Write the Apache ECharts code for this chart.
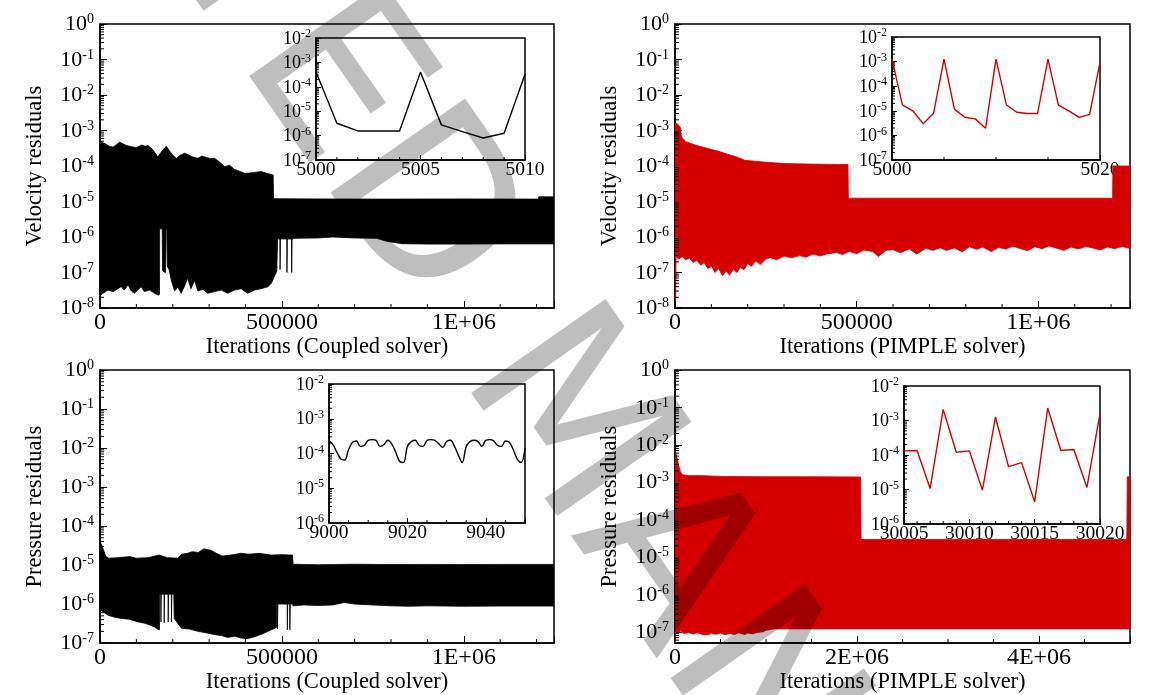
<!DOCTYPE html>
<html>
<head>
<meta charset="utf-8">
<script src="https://cdn.jsdelivr.net/npm/echarts@6/dist/echarts.min.js"></script>
<style>html,body{margin:0;padding:0;background:#fff}#c{width:1154px;height:695px}</style>
</head>
<body>
<div id="c"></div>
<script>
// ---------------- DATA ----------------
// Panel 1: velocity residuals, coupled solver (envelope of the dense oscillation)
var velCoupledUpper = [[0,5.5e-4],[5000,4.6e-4],[15000,4.2e-4],[25000,3.6e-4],[36000,3.4e-4],[45000,4.0e-4],[54000,4.7e-4],[62000,4.3e-4],[72000,3.8e-4],[86000,3.5e-4],[100000,3.3e-4],[115000,3.9e-4],[125000,3.6e-4],[132000,3.8e-4],[145000,2.9e-4],[159000,1.8e-4],[170000,2.6e-4],[182000,3.6e-4],[192000,2.6e-4],[200000,2.0e-4],[210000,1.65e-4],[220000,2.0e-4],[233000,2.3e-4],[245000,2.0e-4],[255000,1.8e-4],[269000,1.65e-4],[280000,1.9e-4],[292000,1.75e-4],[305000,1.6e-4],[315000,1.65e-4],[328000,1.3e-4],[343000,9.6e-5],[356000,1.05e-4],[370000,8.0e-5],[385000,7.0e-5],[398000,6.2e-5],[410000,6.3e-5],[425000,6.6e-5],[443000,7.0e-5],[458000,6.2e-5],[470000,5.8e-5],[476000,5.6e-5],[477000,1.2e-5],[600000,1.18e-5],[800000,1.17e-5],[1000000,1.18e-5],[1205000,1.17e-5],[1206000,1.35e-5],[1248000,1.35e-5]];
var velCoupledLower = [[0,2.2e-8],[8000,2.6e-8],[22000,3.2e-8],[36000,2.9e-8],[49000,3.5e-8],[58000,4e-8],[67000,3.2e-8],[77000,4.5e-8],[86000,3.0e-8],[95000,2.6e-8],[104000,3.2e-8],[113000,4e-8],[122000,2.9e-8],[136000,3.2e-8],[150000,2.6e-8],[161000,2.3e-8],[163500,2.4e-8],[164000,1.7e-6],[171000,1.7e-6],[172000,1.1e-7],[180000,1.0e-7],[182000,1.7e-6],[184000,1.7e-6],[185000,1.5e-7],[190000,1.2e-7],[196000,6e-8],[205000,3e-8],[214000,3.9e-8],[223000,2.6e-8],[232000,4e-8],[241000,7e-8],[250000,3.5e-8],[260000,6e-8],[269000,3e-8],[283000,3.4e-8],[296000,2.6e-8],[315000,2.9e-8],[333000,3.2e-8],[351000,2.6e-8],[370000,3.2e-8],[388000,3.5e-8],[406000,2.6e-8],[425000,3.2e-8],[443000,3.5e-8],[462000,4e-8],[471000,5e-8],[480000,8e-8],[486000,1.1e-7],[488000,8.8e-7],[494500,8.8e-7],[495000,1.2e-7],[496000,8.8e-7],[513500,8.8e-7],[514000,1.0e-7],[515000,8.8e-7],[526500,8.8e-7],[527000,1.0e-7],[528000,8.8e-7],[535000,9.2e-7],[600000,9.4e-7],[640000,1.0e-6],[700000,9.4e-7],[760000,9.2e-7],[790000,7.5e-7],[830000,6.5e-7],[900000,6.3e-7],[1000000,6.3e-7],[1100000,6.4e-7],[1248000,6.4e-7]];

// Panel 2: velocity residuals, PIMPLE solver
var velPimpleUpper = [[0,1.6e-3],[8000,1.5e-3],[15000,1.2e-3],[18000,6.6e-4],[30000,4.8e-4],[60000,3.8e-4],[91000,3.1e-4],[120000,2.6e-4],[141000,2.2e-4],[170000,1.8e-4],[192000,1.45e-4],[242000,1.3e-4],[302000,1.17e-4],[400000,1.12e-4],[476000,1.1e-4],[477000,1.24e-5],[1204000,1.24e-5],[1205000,1.0e-4],[1252000,1.0e-4]];
var velPimpleLower = [[0,1.5e-8],[2000,2e-8],[3000,2.8e-7],[10000,2.4e-7],[20000,2.8e-7],[30000,2.3e-7],[40000,2.5e-7],[50000,1.9e-7],[60000,2.2e-7],[71000,1.6e-7],[80000,1.9e-7],[90000,1.3e-7],[101000,1.5e-7],[110000,1.0e-7],[120000,1.3e-7],[131000,8e-8],[140000,1.1e-7],[150000,8.5e-8],[161000,1.25e-7],[170000,1.0e-7],[180000,1.4e-7],[190000,1.2e-7],[200000,1.8e-7],[210000,1.5e-7],[222000,2.1e-7],[235000,1.7e-7],[250000,2.4e-7],[262000,2.6e-7],[280000,2.3e-7],[300000,2.9e-7],[320000,2.6e-7],[343000,3.0e-7],[360000,2.7e-7],[380000,3.3e-7],[400000,2.9e-7],[420000,3.4e-7],[425000,3.4e-7],[426000,1.1e-6],[427000,3.4e-7],[444000,3.7e-7],[460000,3.2e-7],[480000,3.9e-7],[500000,3.4e-7],[520000,4.3e-7],[544000,3.9e-7],[560000,2.8e-7],[580000,4.2e-7],[600000,4.4e-7],[620000,3.6e-7],[645000,4.6e-7],[665000,3.3e-7],[690000,4.8e-7],[710000,4.2e-7],[730000,5e-7],[746000,4.2e-7],[770000,4.9e-7],[790000,3.8e-7],[810000,5.3e-7],[830000,4.5e-7],[847000,5.2e-7],[870000,3.9e-7],[890000,5.1e-7],[910000,4.6e-7],[930000,5.5e-7],[948000,4.8e-7],[970000,4.1e-7],[990000,5.3e-7],[1010000,4.7e-7],[1030000,5.6e-7],[1048000,4.9e-7],[1070000,4.2e-7],[1090000,5.2e-7],[1110000,4.6e-7],[1130000,5.4e-7],[1150000,4.9e-7],[1170000,4.3e-7],[1190000,5.2e-7],[1210000,4.7e-7],[1230000,5.4e-7],[1252000,4.8e-7]];

// Panel 3: pressure residuals, coupled solver
var presCoupledUpper = [[0,3.8e-5],[4000,3.4e-5],[8000,2.7e-5],[16000,1.65e-5],[24000,1.5e-5],[50000,1.55e-5],[81000,1.65e-5],[100000,1.5e-5],[132000,1.55e-5],[150000,1.7e-5],[163000,1.8e-5],[185000,1.55e-5],[214000,1.5e-5],[224000,1.9e-5],[240000,2.0e-5],[254000,2.2e-5],[270000,2.1e-5],[285000,2.6e-5],[305000,2.4e-5],[320000,2.0e-5],[336000,1.7e-5],[360000,1.8e-5],[387000,2.0e-5],[410000,1.9e-5],[437000,2.0e-5],[470000,1.8e-5],[500000,1.85e-5],[529000,1.8e-5],[531000,1.05e-5],[600000,1.02e-5],[700000,1.05e-5],[800000,1.03e-5],[900000,1.04e-5],[1000000,1.03e-5],[1100000,1.04e-5],[1248000,1.04e-5]];
var presCoupledLower = [[0,7e-7],[4000,6.9e-7],[12000,6e-7],[22000,5.2e-7],[40000,4.6e-7],[58000,4.3e-7],[80000,4.1e-7],[104000,3.5e-7],[125000,3.2e-7],[150000,2.6e-7],[161000,2.2e-7],[163500,2.2e-7],[164000,1.8e-6],[167000,1.8e-6],[167500,3.5e-7],[168500,1.8e-6],[176000,1.8e-6],[176500,3.3e-7],[177500,1.8e-6],[187000,1.8e-6],[187500,3.5e-7],[188500,1.8e-6],[196000,1.8e-6],[196500,3.5e-7],[197500,1.8e-6],[203000,1.8e-6],[204000,4.3e-7],[214000,3.2e-7],[224000,2.4e-7],[245000,2.3e-7],[269000,2.0e-7],[290000,1.85e-7],[315000,1.65e-7],[335000,1.55e-7],[351000,1.4e-7],[370000,1.5e-7],[388000,1.35e-7],[405000,1.3e-7],[425000,1.45e-7],[445000,1.7e-7],[462000,2.0e-7],[480000,2.4e-7],[485000,2.5e-7],[486000,1.0e-6],[487500,1.0e-6],[488000,2.3e-7],[489000,1.0e-6],[514500,1.0e-6],[515000,2.2e-7],[516000,1.0e-6],[521500,1.0e-6],[522000,2.2e-7],[523000,1.0e-6],[529000,1.0e-6],[531000,9e-7],[560000,9.5e-7],[600000,9.2e-7],[640000,9.5e-7],[672000,1.1e-6],[700000,1.0e-6],[750000,9.5e-7],[800000,9.0e-7],[850000,8.8e-7],[900000,9.0e-7],[950000,8.9e-7],[1000000,8.8e-7],[1100000,8.9e-7],[1248000,8.9e-7]];

// Panel 4: pressure residuals, PIMPLE solver
var presPimpleUpper = [[0,7e-3],[20000,4.7e-3],[40000,2.8e-3],[60000,1.9e-3],[81000,1.58e-3],[161000,1.5e-3],[300000,1.5e-3],[565000,1.42e-3],[1000000,1.4e-3],[1500000,1.4e-3],[2040000,1.38e-3],[2045000,2.95e-5],[4965000,2.95e-5],[4970000,1.4e-3],[5000000,1.4e-3]];
var presPimpleLower = [[0,5.5e-8],[5000,5.5e-8],[8000,1.0e-7],[30000,9.5e-8],[60000,1.05e-7],[100000,9e-8],[150000,9.6e-8],[200000,8.7e-8],[250000,9.4e-8],[300000,8.5e-8],[363000,8.3e-8],[400000,9.2e-8],[450000,8.6e-8],[500000,9.3e-8],[550000,8.4e-8],[600000,9.0e-8],[650000,8.5e-8],[700000,9.4e-8],[766000,8.5e-8],[800000,9.3e-8],[850000,8.8e-8],[900000,9.6e-8],[968000,1.0e-7],[1000000,1.1e-7],[1090000,1.2e-7],[1500000,1.2e-7],[2000000,1.2e-7],[3000000,1.2e-7],[4000000,1.2e-7],[5000000,1.2e-7]];

// Insets
var inset1X = [5000,5001,5002,5003,5004,5005,5006,5007,5008,5009,5010];
var inset1Y = [4e-4,3.2e-6,1.55e-6,1.55e-6,1.55e-6,4e-4,2.75e-6,1.45e-6,8e-7,1.25e-6,3.3e-4];

var inset2X = [5000,5001,5002,5003,5004,5005,5006,5007,5008,5009,5010,5011,5012,5013,5014,5015,5016,5017,5018,5019,5020];
var inset2Y = [1.26e-3,1.74e-5,1.0e-5,3.0e-6,8.0e-6,1.26e-3,1.17e-5,5.5e-6,4.7e-6,1.95e-6,1.26e-3,1.74e-5,8.7e-6,7.8e-6,7.8e-6,1.26e-3,1.7e-5,1.0e-5,5.4e-6,7.2e-6,9.3e-4];

var inset3X = [9000,9001,9002,9003,9004,9005,9006,9007,9008,9009,9010,9011,9012,9013,9014,9015,9016,9017,9018,9019,9020,9021,9022,9023,9024,9025,9026,9027,9028,9029,9030,9031,9032,9033,9034,9035,9036,9037,9038,9039,9040,9041,9042,9043,9044,9045,9046,9047,9048,9049,9050];
var inset3Y = [2.3e-4,1.8e-4,1.1e-4,7e-5,6.5e-5,1.3e-4,2.1e-4,2.3e-4,1.6e-4,1.7e-4,2.4e-4,2.5e-4,2.4e-4,1.6e-4,1.8e-4,2.4e-4,1.9e-4,1.1e-4,6e-5,5.5e-5,1.6e-4,2.2e-4,2.4e-4,1.7e-4,1.6e-4,2.4e-4,2.5e-4,2.4e-4,1.9e-4,1.5e-4,2.2e-4,2.4e-4,1.6e-4,9e-5,5.5e-5,1.6e-4,2.2e-4,2.4e-4,2.2e-4,1.6e-4,2.4e-4,2.5e-4,2.3e-4,1.7e-4,1.6e-4,2.3e-4,2.1e-4,1.3e-4,7e-5,5.5e-5,1.4e-4];

var inset4X = [30005,30006,30007,30008,30009,30010,30011,30012,30013,30014,30015,30016,30017,30018,30019,30020];
var inset4Y = [1.32e-4,1.35e-4,1.07e-5,2.1e-3,1.2e-4,1.32e-4,9.6e-6,1.26e-3,4.6e-5,6e-5,4.4e-6,2.3e-3,1.35e-4,1.45e-4,1.15e-5,1.6e-3];

// Tick labels
var xTicksCoupled = [0, 500000, 1000000];
var xLabelsCoupled = ['0', '500000', '1E+06'];
var xTicksPimplePres = [0, 2000000, 4000000];
var xLabelsPimplePres = ['0', '2E+06', '4E+06'];
var xTicksInset1 = [5000, 5005, 5010];
var xTicksInset2 = [5000, 5020];
var xTicksInset3 = [9000, 9020, 9040];
var xTicksInset4 = [30005, 30010, 30015, 30020];

// Minor x ticks
var xMinorCoupled = [100000,200000,300000,400000,600000,700000,800000,900000,1100000,1200000];
var xMinorPimplePres = [500000,1000000,1500000,2500000,3000000,3500000,4500000];
var xMinorInset1 = [5001,5002,5003,5004,5006,5007,5008,5009];
var xMinorInset2 = [5005,5010,5015];
var xMinorInset3 = [9005,9010,9015,9025,9030,9035,9045,9050];
var xMinorInset4 = [30006,30007,30008,30009,30011,30012,30013,30014,30016,30017,30018,30019];

// Watermark text
var watermarkText = 'ACCEPTED MANUSCRIPT';

// ---------------- HELPERS ----------------
var SERIF = "'Liberation Serif','Times New Roman',serif";
var RED = '#d40000';

function logMinor(minV, maxV) {
  var out = [];
  var e0 = Math.floor(Math.log10(minV)), e1 = Math.ceil(Math.log10(maxV));
  for (var e = e0; e < e1; e++) {
    for (var k = 2; k <= 9; k++) {
      var v = k * Math.pow(10, e);
      if (v > minV * 1.0001 && v < maxV * 0.9999) out.push(v);
    }
  }
  return out;
}

function yLab(v) {
  var e = Math.log10(v), r = Math.round(e);
  if (Math.abs(e - r) > 1e-3) return '';
  return '{b|10}{s|' + r + '}';
}

function xLabFn(ticks, labels) {
  return function (v) {
    for (var i = 0; i < ticks.length; i++) {
      if (Math.abs(ticks[i] - v) < 1e-6 * Math.max(1, Math.abs(v))) return labels ? labels[i] : String(ticks[i]);
    }
    return '';
  };
}

function yAxisCfg(gi, min, max, name, inset) {
  return {
    type: 'log', logBase: 10, gridIndex: gi, min: min, max: max, splitNumber: 8,
    name: name || '', nameLocation: 'middle', nameGap: 53,
    nameTextStyle: { fontFamily: SERIF, fontSize: 22.5, color: '#000' },
    axisLine: { show: true, lineStyle: { color: '#000', width: 1.5 } },
    axisTick: { show: true, inside: true, length: inset ? 5 : 7, lineStyle: { color: '#000', width: 1 } },
    minorTick: { show: false }, splitLine: { show: false }, minorSplitLine: { show: false },
    axisLabel: {
      formatter: yLab, margin: inset ? 5 : 6,
      rich: inset ? {
        b: { fontFamily: SERIF, fontSize: 18, color: '#000', lineHeight: 20, verticalAlign: 'bottom' },
        s: { fontFamily: SERIF, fontSize: 12, color: '#000', lineHeight: 12, verticalAlign: 'top' }
      } : {
        b: { fontFamily: SERIF, fontSize: 22, color: '#000', lineHeight: 23, verticalAlign: 'bottom' },
        s: { fontFamily: SERIF, fontSize: 14, color: '#000', lineHeight: 14, verticalAlign: 'top' }
      }
    }
  };
}

function xAxisCfg(gi, min, max, interval, ticks, labels, name, inset) {
  return {
    type: 'value', gridIndex: gi, min: min, max: max, interval: interval,
    name: name || '', nameLocation: 'middle', nameGap: 20,
    nameTextStyle: { fontFamily: SERIF, fontSize: 22.5, color: '#000' },
    axisLine: { show: true, onZero: false, lineStyle: { color: '#000', width: 1.5 } },
    axisTick: { show: true, inside: true, length: inset ? 5 : 7, lineStyle: { color: '#000', width: 1 } },
    minorTick: { show: false }, splitLine: { show: false },
    axisLabel: { formatter: xLabFn(ticks, labels), margin: inset ? 0 : 3, fontFamily: SERIF, fontSize: inset ? 19.5 : 24, color: '#000', interval: 0 }
  };
}

function bandSeries(gi, upper, lower, color) {
  return {
    type: 'custom', xAxisIndex: gi, yAxisIndex: gi, silent: true, z: 2, clip: true,
    data: [[upper[0][0], upper[0][1]]],
    renderItem: function (params, api) {
      var pts = [];
      for (var i = 0; i < upper.length; i++) pts.push(api.coord(upper[i]));
      for (var j = lower.length - 1; j >= 0; j--) pts.push(api.coord(lower[j]));
      return { type: 'polygon', shape: { points: pts }, style: { fill: color, stroke: color, lineWidth: 0.8 } };
    }
  };
}

function minorYSeries(gi, xAt, values, len) {
  return {
    type: 'custom', xAxisIndex: gi, yAxisIndex: gi, silent: true, z: 5, clip: false,
    data: values.map(function (v) { return [xAt, v]; }),
    renderItem: function (params, api) {
      var p = api.coord([api.value(0), api.value(1)]);
      return { type: 'line', shape: { x1: p[0], y1: p[1], x2: p[0] + len, y2: p[1] }, style: { stroke: '#000', lineWidth: 1 } };
    }
  };
}

function minorXSeries(gi, yAt, values, len) {
  return {
    type: 'custom', xAxisIndex: gi, yAxisIndex: gi, silent: true, z: 5, clip: false,
    data: values.map(function (v) { return [v, yAt]; }),
    renderItem: function (params, api) {
      var p = api.coord([api.value(0), api.value(1)]);
      return { type: 'line', shape: { x1: p[0], y1: p[1], x2: p[0], y2: p[1] - len }, style: { stroke: '#000', lineWidth: 1 } };
    }
  };
}

function lineSeries(gi, xs, ys, color, smooth) {
  return {
    type: 'line', xAxisIndex: gi, yAxisIndex: gi, z: 6, silent: true, showSymbol: false, symbol: 'none',
    smooth: smooth || false, animation: false,
    lineStyle: { color: color, width: 1.4 },
    data: xs.map(function (x, i) { return [x, ys[i]]; })
  };
}

function gridCfg(l, t, w, h) {
  return { left: l, top: t, width: w, height: h, show: true, borderColor: '#000', borderWidth: 1.5, backgroundColor: 'transparent', containLabel: false };
}

// ---------------- OPTION ----------------
var C1 = 1248000, C2 = 1252000, P4 = 5000000;
var option = {
  animation: false,
  backgroundColor: '#fff',
  grid: [
    gridCfg(100, 24, 454, 284), gridCfg(675, 24, 455, 284),
    gridCfg(100, 370, 454, 283), gridCfg(675, 370, 455, 283),
    gridCfg(316, 38, 209, 122), gridCfg(892, 37, 208, 123),
    gridCfg(329, 384, 196, 139), gridCfg(904, 386, 196, 138)
  ],
  xAxis: [
    xAxisCfg(0, 0, C1, 500000, xTicksCoupled, xLabelsCoupled, 'Iterations (Coupled solver)'),
    xAxisCfg(1, 0, C2, 500000, xTicksCoupled, xLabelsCoupled, 'Iterations (PIMPLE solver)'),
    xAxisCfg(2, 0, C1, 500000, xTicksCoupled, xLabelsCoupled, 'Iterations (Coupled solver)'),
    xAxisCfg(3, 0, P4, 2000000, xTicksPimplePres, xLabelsPimplePres, 'Iterations (PIMPLE solver)'),
    xAxisCfg(4, 5000, 5010, 5, xTicksInset1, null, '', true),
    xAxisCfg(5, 5000, 5020, 20, xTicksInset2, null, '', true),
    xAxisCfg(6, 9000, 9050, 20, xTicksInset3, null, '', true),
    xAxisCfg(7, 30005, 30020, 5, xTicksInset4, null, '', true)
  ],
  yAxis: [
    yAxisCfg(0, 1e-8, 1, 'Velocity residuals'),
    yAxisCfg(1, 1e-8, 1, 'Velocity residuals'),
    yAxisCfg(2, 1e-7, 1, 'Pressure residuals'),
    yAxisCfg(3, 5e-8, 1, 'Pressure residuals'),
    yAxisCfg(4, 1e-7, 1e-2, '', true),
    yAxisCfg(5, 1e-7, 1e-2, '', true),
    yAxisCfg(6, 1e-6, 1e-2, '', true),
    yAxisCfg(7, 1e-6, 1e-2, '', true)
  ],
  series: [
    bandSeries(0, velCoupledUpper, velCoupledLower, '#000'),
    bandSeries(1, velPimpleUpper, velPimpleLower, RED),
    bandSeries(2, presCoupledUpper, presCoupledLower, '#000'),
    bandSeries(3, presPimpleUpper, presPimpleLower, RED),
    lineSeries(4, inset1X, inset1Y, '#000'),
    lineSeries(5, inset2X, inset2Y, RED),
    lineSeries(6, inset3X, inset3Y, '#000', 0.35),
    lineSeries(7, inset4X, inset4Y, RED),
    minorYSeries(0, 0, logMinor(1e-8, 1), 4), minorXSeries(0, 1e-8, xMinorCoupled, 4),
    minorYSeries(1, 0, logMinor(1e-8, 1), 4), minorXSeries(1, 1e-8, xMinorCoupled, 4),
    minorYSeries(2, 0, logMinor(1e-7, 1), 4), minorXSeries(2, 1e-7, xMinorCoupled, 4),
    minorYSeries(3, 0, logMinor(5e-8, 1), 4), minorXSeries(3, 5e-8, xMinorPimplePres, 4),
    minorYSeries(4, 5000, logMinor(1e-7, 1e-2), 3), minorXSeries(4, 1e-7, xMinorInset1, 3),
    minorYSeries(5, 5000, logMinor(1e-7, 1e-2), 3), minorXSeries(5, 1e-7, xMinorInset2, 3),
    minorYSeries(6, 9000, logMinor(1e-6, 1e-2), 3), minorXSeries(6, 1e-6, xMinorInset3, 3),
    minorYSeries(7, 30005, logMinor(1e-6, 1e-2), 3), minorXSeries(7, 1e-6, xMinorInset4, 3)
  ],
  graphic: [{
    type: 'text', x: -220, y: -696, rotation: -55 * Math.PI / 180, z: 100, silent: true,
    style: { text: watermarkText, fontFamily: 'DejaVu Sans', fontSize: 225, fill: 'rgba(0,0,0,0.255)', align: 'left', verticalAlign: 'middle' }
  }]
};

var chart = echarts.init(document.getElementById('c'), null, { renderer: 'canvas' });
chart.setOption(option);
</script>
</body>
</html>
